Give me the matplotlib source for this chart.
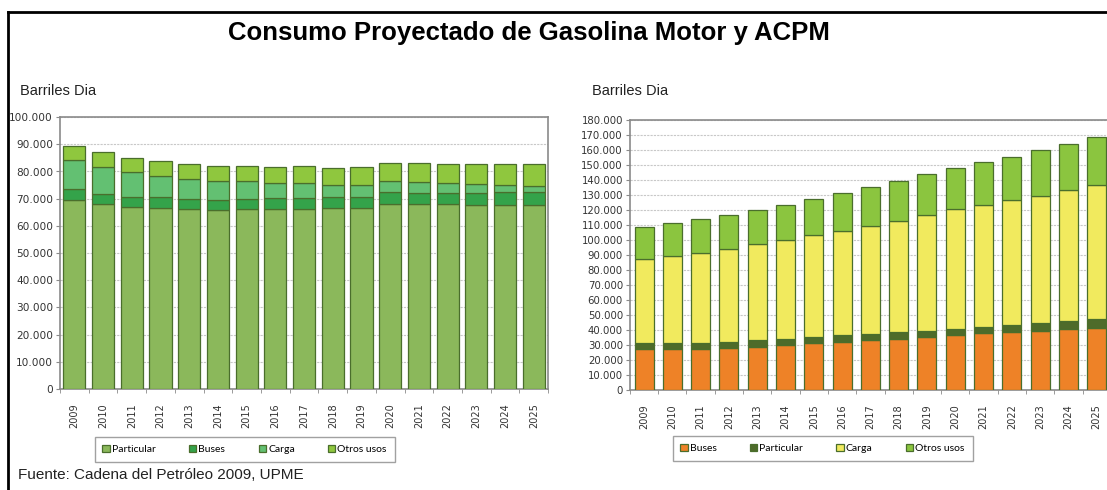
import numpy as np
import matplotlib
matplotlib.use("Agg")
import matplotlib.pyplot as plt
from matplotlib.lines import Line2D
from matplotlib.ticker import FuncFormatter, MultipleLocator

# --- data (barriles dia) ---
years = [str(y) for y in range(2009, 2026)]

# gasolina motor (left) - stacked tops read, converted to segment heights below
gas_particular = [69.7, 67.9, 66.9, 66.7, 66.3, 65.8, 66.3, 66.1, 66.1, 66.4, 66.7, 67.9, 67.9, 67.9, 67.5, 67.5, 67.5]
gas_buses = [3.8, 3.7, 3.7, 3.8, 3.7, 3.9, 3.7, 4.2, 4.1, 4.1, 4.0, 4.6, 4.3, 4.3, 4.7, 5.0, 4.9]
gas_carga = [10.6, 10.1, 9.2, 7.8, 7.2, 6.9, 6.6, 5.3, 5.4, 4.7, 4.5, 4.0, 3.9, 3.5, 3.2, 2.5, 2.2]
gas_otros = [5.4, 5.3, 5.0, 5.5, 5.6, 5.4, 5.4, 6.1, 6.3, 6.2, 6.5, 6.7, 6.9, 6.9, 7.2, 7.6, 8.0]

# ACPM (right)
acpm_buses = [27.3, 27.3, 27.3, 27.8, 28.7, 30.0, 31.1, 32.2, 33.1, 34.2, 35.6, 36.7, 37.8, 38.4, 39.6, 40.9, 41.3]
acpm_particular = [3.8, 3.8, 3.8, 4.0, 4.4, 4.2, 4.5, 4.2, 4.2, 4.2, 4.0, 4.0, 4.0, 4.7, 4.8, 4.9, 5.8]
acpm_carga = [56.4, 58.4, 60.4, 62.2, 64.0, 65.8, 67.7, 69.6, 72.0, 74.5, 77.1, 79.7, 81.5, 83.6, 85.2, 87.5, 89.6]
acpm_otros = [21.4, 21.6, 22.5, 22.9, 22.9, 23.3, 24.0, 25.6, 25.8, 26.7, 27.1, 27.6, 28.5, 28.6, 30.2, 30.9, 31.7]

GAS_COL = ["#8bb85b", "#34a34a", "#63c072", "#8fc73e"]
ACPM_COL = ["#ee8227", "#4e6b2a", "#f1ea5e", "#8bc53f"]
EDGE = "#4a6e2c"

plt.rcParams["font.family"] = ["DejaVu Sans"]
fig = plt.figure(figsize=(11.07, 4.90), dpi=100)


def thousands(v, _):
    return "0" if v == 0 else f"{int(v):,}".replace(",", ".")


def stacked(ax, series, colors, width, ymax, step):
    x = np.arange(len(years))
    bottom = np.zeros(len(years))
    bars = []
    for vals, c in zip(series, colors):
        v = np.array(vals) * 1000
        bars.append(ax.bar(x, v, width, bottom=bottom, color=c, edgecolor=EDGE, linewidth=0.9, zorder=3))
        bottom += v
    ax.set_xlim(-0.5, len(years) - 0.5)
    ax.set_ylim(0, ymax)
    ax.yaxis.set_major_locator(MultipleLocator(step))
    ax.yaxis.set_major_formatter(FuncFormatter(thousands))
    ax.grid(axis="y", color="#c8c8c8", lw=0.8, ls=(0, (2, 1)), zorder=0)
    ax.set_xticks(x)
    ax.set_xticklabels(years, rotation=90, fontsize=7, color="#333333")
    ax.tick_params(axis="x", length=0, pad=10)
    ax.set_xticks(np.arange(-0.5, len(years)), minor=True)   # ticks between categories
    ax.tick_params(axis="x", which="minor", length=3, color="#8a8a8a", direction="out")
    ax.tick_params(axis="y", length=3, color="#8a8a8a", labelsize=7.3, labelcolor="#333333", pad=2)
    for s in ax.spines.values():
        s.set_color("#8a8a8a")
        s.set_linewidth(1.2)
    return bars


# left: gasolina motor
ax1 = fig.add_axes([0.0542, 0.206, 0.441, 0.555])
b1 = stacked(ax1, [gas_particular, gas_buses, gas_carga, gas_otros], GAS_COL, 0.77, 100000, 10000)
ax1.tick_params(axis="y", labelsize=7.6)
ax1.get_yticklabels()[-1].set_fontsize(7.3)

# right: ACPM (runs off the right edge like the reference)
ax2 = fig.add_axes([0.569, 0.204, 0.4345, 0.551])
b2 = stacked(ax2, [acpm_buses, acpm_particular, acpm_carga, acpm_otros], ACPM_COL, 0.67, 180000, 10000)

leg_kw = dict(ncol=4, frameon=True, fancybox=False, edgecolor="#8a8a8a",
              handlelength=0.7, handleheight=0.7, handletextpad=0.2, columnspacing=3.2,
              borderpad=0.75, prop={"family": "Lato", "size": 7.5})
leg1 = fig.legend(b1, ["Particular", "Buses", "Carga", "Otros usos"],
                  loc="center", bbox_to_anchor=(0.221, 0.082), **leg_kw)
leg2 = fig.legend(b2, ["Buses", "Particular", "Carga", "Otros usos"],
                  loc="center", bbox_to_anchor=(0.743, 0.084), **leg_kw)
for lg in (leg1, leg2):
    lg.get_frame().set_linewidth(1.0)

# texts
fig.text(0.478, 0.932, "Consumo Proyectado de Gasolina Motor y ACPM", ha="center", va="center",
         fontsize=18.5, fontweight="bold", family="Liberation Sans")
fig.text(0.018, 0.815, "Barriles Dia", ha="left", va="center", fontsize=10.5,
         family="Liberation Sans", color="#222222")
fig.text(0.535, 0.815, "Barriles Dia", ha="left", va="center", fontsize=10.5,
         family="Liberation Sans", color="#222222")
fig.text(0.016, 0.030, "Fuente: Cadena del Petróleo 2009, UPME", ha="left", va="center",
         fontsize=11, family="Liberation Sans", color="#222222")

# outer frame (top and left edges visible in the reference)
fig.add_artist(Line2D([0.0075, 1.0], [0.976, 0.976], transform=fig.transFigure, color="black", lw=2))
fig.add_artist(Line2D([0.0075, 0.0075], [0.0, 0.976], transform=fig.transFigure, color="black", lw=2))

fig.savefig("out.png", dpi=100)
